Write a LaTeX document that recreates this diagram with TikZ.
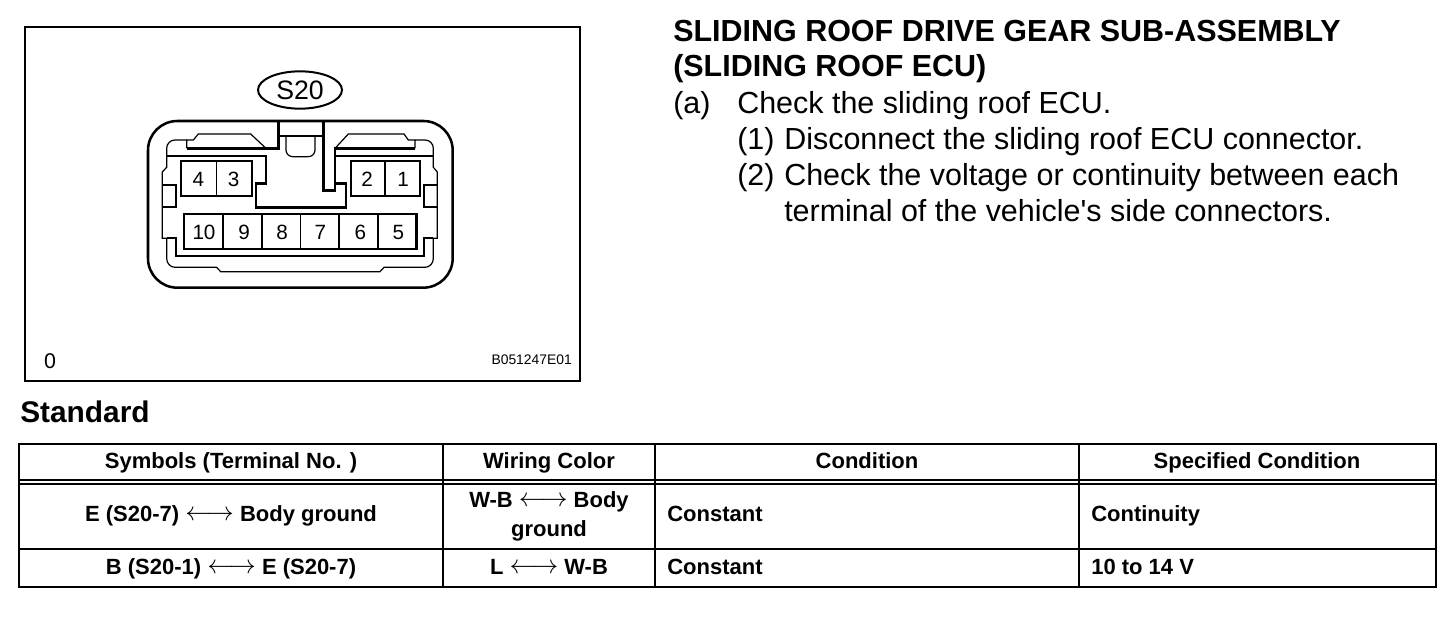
\documentclass[tikz,border=0pt]{standalone}
\usepackage{fontspec}
\usetikzlibrary{shapes.geometric}
\setmainfont{Liberation Sans}
\tikzset{
  txt/.style={inner sep=0pt,anchor=base west,font=\fontsize{22.85}{26}\selectfont},
  ttl/.style={txt,font=\fontsize{22.85}{26}\bfseries\selectfont},
  stdhead/.style={txt,font=\fontsize{22.4}{26}\bfseries\selectfont},
  tcell/.style={inner sep=0pt,anchor=base,align=center,font=\fontsize{16.5}{21.75}\bfseries\selectfont},
  lcell/.style={inner sep=0pt,anchor=base west,font=\fontsize{16.5}{21.75}\bfseries\selectfont},
  num/.style={inner sep=0pt,anchor=center,font=\fontsize{15.5}{18}\selectfont},
  thick line/.style={line width=1.9pt,line join=miter},
  med line/.style={line width=1.5pt},
  thin line/.style={line width=0.9pt},
}
\newcommand{\lra}{\raisebox{0.5pt}{\scalebox{1.15}{$\longleftrightarrow$}}}
\begin{document}
\begin{tikzpicture}[x=0.75pt,y=-0.75pt]
\useasboundingbox (0,0) rectangle (1456,620);
\fill[white] (0,0) rectangle (1456,620);
% frame
\draw[thick line] (25,27) rectangle (580,381);
\node[draw,ellipse,line width=1.5pt,inner sep=0pt,minimum width=63pt,minimum height=28pt,font=\fontsize{20}{24}\selectfont] (s20) at (300,90) {S20};
\begin{scope}[shift={(130,60)},x=0.25pt,y=-0.25pt]
% outer
\draw[thick line,rounded corners=22pt] (54,183) rectangle (968,683);
% slot
\draw[thick line] (170,265) -- (445,265) -- (445,183);
\draw[thick line] (110,288) -- (408,288) -- (408,370) -- (378,370) -- (378,442) -- (648,442) -- (648,370) -- (615,370) -- (615,392) -- (580,392) -- (580,183);
\draw[thick line] (615,370) -- (615,265) -- (855,265);
\draw[thick line] (615,288) -- (910,288);
% latches
\draw[thin line] (170,265) -- (170,240) -- (190,240) -- (205,222) -- (362,222) -- (408,265);
\draw[thin line] (855,265) -- (855,240) -- (835,240) -- (822,222) -- (655,222) -- (615,265);
% centre catch
\draw[thin line] (445,228) -- (580,228);
\draw[thin line,rounded corners=5pt] (468,228) -- (468,290) -- (555,290) -- (555,228);
% inner outline
\draw[thin line] (170,240) -- (135,240) to[out=180,in=90] (110,265) -- (110,322) -- (97,336) -- (97,535) -- (110,535) -- (110,595) to[out=-90,in=180] (135,622) -- (260,622) -- (272,635) -- (750,635) -- (762,622) -- (885,622) to[out=0,in=-90] (910,595) -- (910,535) -- (922,535) -- (922,336) -- (910,322) -- (910,265) to[out=90,in=0] (885,240) -- (855,240);
\draw[med line] (97,375) -- (138,375) -- (138,442) -- (97,442);
\draw[med line] (922,375) -- (882,375) -- (882,442) -- (922,442);
\draw[med line] (110,535) -- (138,535) -- (138,588) -- (882,588) -- (882,535) -- (910,535);
% terminals
\draw[med line] (152,302) rectangle (367,408);
\draw[thin line] (260,302) -- (260,408);
\draw[med line] (662,302) rectangle (870,408);
\draw[thin line] (765,302) -- (765,408);
\draw[thick line] (162,462) rectangle (860,567);
\draw[med line] (280,462) -- (280,567) (397,462) -- (397,567) (627,462) -- (627,567) (743,462) -- (743,567);
\draw[thin line] (512,462) -- (512,567);
\node[num] (t4) at (205,357) {4};
\node[num] (t3) at (311,357) {3};
\node[num] (t2) at (711,357) {2};
\node[num] (t1) at (819,357) {1};
\node[num] (t10) at (222,517) {10};
\node[num] (t9) at (342,517) {9};
\node[num] (t8) at (456,517) {8};
\node[num] (t7) at (571,517) {7};
\node[num] (t6) at (691,517) {6};
\node[num] (t5) at (805,517) {5};
\end{scope}
\node[inner sep=0pt,font=\fontsize{16}{18}\selectfont] (zero) at (50,361) {0};
\node[inner sep=0pt,anchor=east,font=\fontsize{10.4}{12}\selectfont] (code) at (572,360) {B051247E01};
% text
\node[ttl] (h1) at (673,41.5) {SLIDING ROOF DRIVE GEAR SUB-ASSEMBLY};
\node[ttl] (h2) at (673,76.5) {(SLIDING ROOF ECU)};
\node[txt] (a) at (673,114) {(a)};
\node[txt] (a1) at (737,114) {Check the sliding roof ECU.};
\node[txt] (n1) at (737,150) {(1)};
\node[txt] (n1t) at (784,150) {Disconnect the sliding roof ECU connector.};
\node[txt] (n2) at (737,186) {(2)};
\node[txt] (n2t) at (784,186) {Check the voltage or continuity between each};
\node[txt] (n2u) at (784,222) {terminal of the vehicle\textquotesingle s side connectors.};
\node[stdhead] (std) at (20,422) {Standard};
% table
\draw[thick line] (19,444) rectangle (1436,587);
\draw[thick line] (19,480) -- (1436,480);
\draw[thick line] (19,484) -- (1436,484);
\draw[thick line] (19,549) -- (1436,549);
\draw[thick line] (443,444) -- (443,587);
\draw[thick line] (655,444) -- (655,587);
\draw[thick line] (1079,444) -- (1079,587);
\node[tcell] (c11) at (231,468) {Symbols (Terminal No. )};
\node[tcell] (c12) at (549,468) {Wiring Color};
\node[tcell] (c13) at (867,468) {Condition};
\node[tcell] (c14) at (1257,468) {Specified Condition};
\node[tcell] (c21) at (231,521) {E (S20-7) \lra{} Body ground};
\node[tcell] (c22) at (549,536) {W-B \lra{} Body\\ground};
\node[lcell] (c23) at (667,521) {Constant};
\node[lcell] (c24) at (1091,521) {Continuity};
\node[tcell] (c31) at (231,574) {B (S20-1) \lra{} E (S20-7)};
\node[tcell] (c32) at (549,574) {L \lra{} W-B};
\node[lcell] (c33) at (667,574) {Constant};
\node[lcell] (c34) at (1091,574) {10 to 14 V};
\end{tikzpicture}
\end{document}
